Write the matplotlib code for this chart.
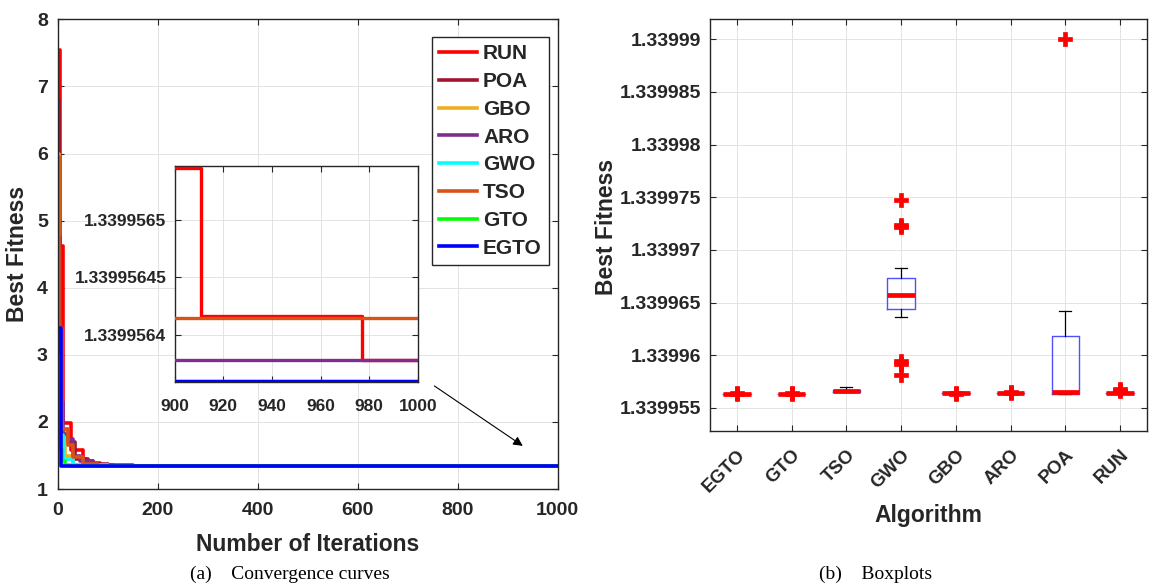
import matplotlib
matplotlib.use('Agg')
import matplotlib.pyplot as plt
from matplotlib.ticker import FuncFormatter

plt.rcParams['font.family'] = ['Liberation Sans', 'DejaVu Sans']
plt.rcParams['font.weight'] = 'bold'
plt.rcParams['text.color'] = '#262626'
plt.rcParams['axes.labelcolor'] = '#262626'
plt.rcParams['xtick.color'] = '#262626'
plt.rcParams['ytick.color'] = '#262626'

# ---- convergence curves (change points: iteration, best fitness) ----
algs = ['RUN', 'POA', 'GBO', 'ARO', 'GWO', 'TSO', 'GTO', 'EGTO']
colors = ['#FF0000', '#A2142F', '#EDB120', '#7E2F8E', '#00FFFF', '#D95319', '#00FF00', '#0000FF']

run_it = [1, 4, 11, 26, 51, 57, 71, 85, 110, 130, 911, 977, 1000]
run_fit = [7.55, 4.62, 1.98, 1.58, 1.45, 1.42, 1.39, 1.36, 1.345, 1.339956545, 1.339956417, 1.3399563786, 1.3399563786]
poa_it = [1, 3, 8, 20, 35, 60, 100, 150, 1000]
poa_fit = [6.8, 2.6, 1.85, 1.7, 1.45, 1.38, 1.345, 1.339957, 1.339957]
gbo_it = [1, 3, 5, 15, 30, 60, 120, 1000]
gbo_fit = [6.0, 3.5, 1.9, 1.5, 1.36, 1.339957, 1.33995636, 1.33995636]
aro_it = [1, 4, 10, 20, 30, 45, 70, 150, 1000]
aro_fit = [4.75, 2.3, 1.82, 1.75, 1.5, 1.42, 1.36, 1.3399563786, 1.3399563786]
gwo_it = [1, 4, 10, 30, 100, 1000]
gwo_fit = [3.0, 1.8, 1.45, 1.36, 1.339966, 1.339966]
tso_it = [1, 3, 8, 20, 30, 50, 80, 130, 1000]
tso_fit = [5.95, 3.4, 1.9, 1.65, 1.48, 1.38, 1.35, 1.339956415, 1.339956415]
gto_it = [1, 4, 8, 15, 25, 1000]
gto_fit = [2.1, 1.6, 1.42, 1.36, 1.33995636, 1.33995636]
egto_it = [1, 6, 40, 1000]
egto_fit = [3.4, 1.339957, 1.33995636, 1.33995636]

curves_it = [run_it, poa_it, gbo_it, aro_it, gwo_it, tso_it, gto_it, egto_it]
curves_fit = [run_fit, poa_fit, gbo_fit, aro_fit, gwo_fit, tso_fit, gto_fit, egto_fit]

inset_yticks = [1.3399564, 1.33995645, 1.3399565]

# ---- boxplot statistics ----
box_names = ['EGTO', 'GTO', 'TSO', 'GWO', 'GBO', 'ARO', 'POA', 'RUN']
box_q1 = [1.3399563, 1.3399563, 1.3399565, 1.3399644, 1.3399564, 1.3399564, 1.3399563, 1.3399564]
box_med = [1.3399563, 1.3399563, 1.3399566, 1.3399657, 1.3399564, 1.3399564, 1.3399565, 1.3399564]
box_q3 = [1.3399563, 1.3399563, 1.3399567, 1.3399673, 1.3399564, 1.3399564, 1.3399618, 1.3399564]
box_lo = [1.3399563, 1.3399563, 1.3399565, 1.3399636, 1.3399564, 1.3399564, 1.3399563, 1.3399564]
box_hi = [1.3399563, 1.3399563, 1.3399570, 1.3399683, 1.3399564, 1.3399564, 1.3399642, 1.3399564]
box_out = [[1.33995635, 1.3399564], [1.33995635, 1.3399564], [],
           [1.3399747, 1.3399724, 1.3399722, 1.3399595, 1.3399592, 1.3399581],
           [1.33995635, 1.3399564], [1.3399564, 1.3399565], [1.33999],
           [1.3399566, 1.3399568]]

fig = plt.figure(figsize=(11.52, 5.85), dpi=100)

def style_axes(ax, size, pad):
    ax.grid(True, color='#e3e3e3', lw=0.7)
    ax.set_axisbelow(True)
    ax.tick_params(direction='in', top=True, right=True, labelsize=size, length=4, pad=pad)
    for s in ax.spines.values():
        s.set_color('#262626')
        s.set_linewidth(1.0)

# left: convergence
ax = fig.add_axes([0.05, 0.164, 0.434, 0.803])
for it, fit, c, name in zip(curves_it, curves_fit, colors, algs):
    ax.step(it, fit, where='post', color=c, lw=2.6, label=name)
ax.set_xlim(0, 1000)
ax.set_ylim(1, 8)
ax.set_xticks(range(0, 1001, 200))
ax.set_yticks(range(1, 9))
style_axes(ax, 14, 7)
ax.tick_params(axis='x', pad=9)
ax.set_xlabel('Number of Iterations', fontsize=16.5, fontweight='bold')
ax.set_ylabel('Best Fitness', fontsize=16.5, fontweight='bold')
ax.xaxis.set_label_coords(0.5, -0.094)
ax.yaxis.set_label_coords(-0.058, 0.5)
leg = ax.legend(loc='upper right', bbox_to_anchor=(0.983, 0.962), borderaxespad=0,
                fontsize=15, handlelength=1.8, labelspacing=0.42, handletextpad=0.3,
                fancybox=False, framealpha=1, edgecolor='#262626', borderpad=0.35)
leg.get_frame().set_linewidth(1.0)
ax.annotate('', xy=(935, 1.62), xytext=(749, 2.56),
            arrowprops=dict(arrowstyle='-|>', color='black', lw=0.8, mutation_scale=14))

# inset zoom
axi = fig.add_axes([0.1517, 0.347, 0.211, 0.370])
for it, fit, c in zip(curves_it, curves_fit, colors):
    axi.step(it, fit, where='post', color=c, lw=2.4, zorder=3)
axi.set_xlim(900, 1000)
axi.set_ylim(1.3399563594, 1.339956547)
axi.set_xticks(range(900, 1001, 20))
axi.set_yticks(inset_yticks)
axi.yaxis.set_major_formatter(FuncFormatter(lambda v, p: '%.9g' % v))
style_axes(axi, 12.5, 6)
axi.tick_params(axis='x', pad=12)

# right: boxplots
ax2 = fig.add_axes([0.616, 0.263, 0.380, 0.704])
stats = []
for i in range(len(box_names)):
    stats.append(dict(label=box_names[i], q1=box_q1[i], med=box_med[i], q3=box_q3[i],
                      whislo=box_lo[i], whishi=box_hi[i], fliers=box_out[i]))
ax2.bxp(stats, widths=0.5, showfliers=True,
        boxprops=dict(color='#5050ff', lw=1.0),
        medianprops=dict(color='#FF0000', lw=3.4),
        whiskerprops=dict(color='black', lw=0.9),
        capprops=dict(color='black', lw=0.9),
        capwidths=0.22,
        flierprops=dict(marker='P', markerfacecolor='#FF0000', markeredgecolor='#FF0000',
                        markersize=10, markeredgewidth=0.5, linestyle='none'))
ax2.set_xlim(0.5, 8.5)
ax2.set_ylim(1.3399528, 1.3399919)
ax2.set_yticks([1.339955, 1.33996, 1.339965, 1.33997, 1.339975, 1.33998, 1.339985, 1.33999])
ax2.yaxis.set_major_formatter(FuncFormatter(lambda v, p: '%.7g' % v))
style_axes(ax2, 14, 6)
ax2.tick_params(axis='x', labelsize=13.5, pad=11)
for lab in ax2.get_xticklabels():
    lab.set_rotation(45)
    lab.set_ha('right')
    lab.set_va('top')
    lab.set_rotation_mode('anchor')
ax2.set_xlabel('Algorithm', fontsize=16.5, fontweight='bold')
ax2.set_ylabel('Best Fitness', fontsize=16.5, fontweight='bold')
ax2.xaxis.set_label_coords(0.5, -0.177)
ax2.yaxis.set_label_coords(-0.21, 0.495)

# captions
fig.text(0.252, 0.004, '(a)    Convergence curves', fontsize=14, fontweight='normal',
         family=['Liberation Serif', 'DejaVu Serif'], ha='center', va='bottom', color='black')
fig.text(0.760, 0.004, '(b)    Boxplots', fontsize=14, fontweight='normal',
         family=['Liberation Serif', 'DejaVu Serif'], ha='center', va='bottom', color='black')

fig.savefig('out.png', dpi=100)
